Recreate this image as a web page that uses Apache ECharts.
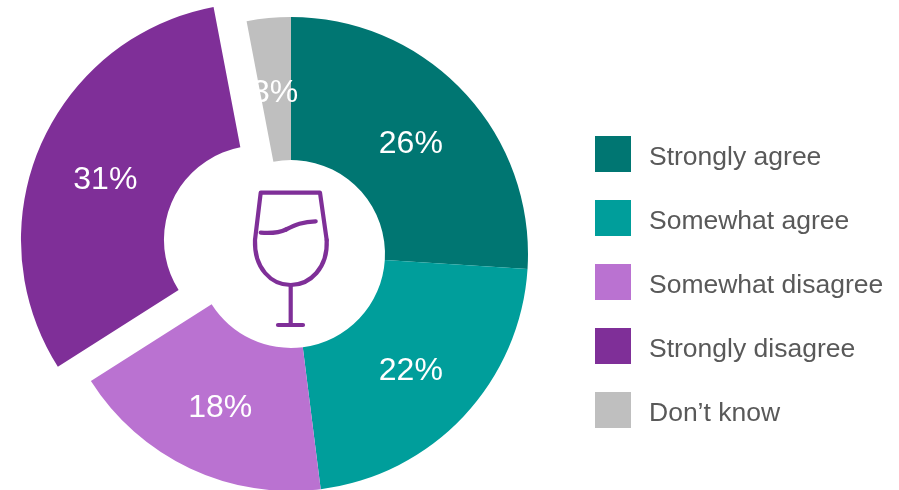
<!DOCTYPE html>
<html>
<head>
<meta charset="utf-8">
<script src="https://cdn.jsdelivr.net/npm/echarts@6/dist/echarts.min.js"></script>
<style>html,body{margin:0;padding:0;background:#fff}#c{width:899px;height:490px}</style>
</head>
<body>
<div id="c"></div>
<script>
const categories = ['Strongly agree', 'Somewhat agree', 'Somewhat disagree', 'Strongly disagree', 'Don\u2019t know'];
const values = [26, 22, 18, 31, 3];
const colors = ['#007672', '#009E9B', '#BA72D1', '#7F2F98', '#BFBFBF'];
const separated = [false, false, false, true, false];
const labelNudge = [[-3, 6], [-3, 2], [1, 2], [2, 7], [0, 7]];
const fontFamily = '"Liberation Sans", Arial, sans-serif';
const iconStyle = { fill: 'none', stroke: '#7F2F98', lineWidth: 4.2, lineJoin: 'round', lineCap: 'round' };
const icon = (type, shape) => ({ type, shape, silent: true, style: iconStyle });

const chart = echarts.init(document.getElementById('c'), null, { renderer: 'canvas' });
chart.setOption({
  animation: false,
  backgroundColor: '#ffffff',
  color: colors,
  legend: {
    orient: 'vertical',
    left: 595,
    top: 136,
    padding: 0,
    itemWidth: 36,
    itemHeight: 36,
    itemGap: 28,
    icon: 'rect',
    selectedMode: false,
    data: categories,
    formatter: '{t|{name}}',
    textStyle: {
      color: '#595959', fontSize: 26.5, fontFamily,
      rich: { t: { color: '#595959', fontSize: 26.5, fontFamily, padding: [7, 0, 0, 13] } }
    }
  },
  series: [{
    type: 'pie',
    center: [291, 254],
    radius: [94, 237],
    startAngle: 90,
    clockwise: true,
    silent: true,
    avoidLabelOverlap: false,
    selectedMode: 'multiple',
    selectedOffset: 36,
    data: categories.map((name, i) => ({
      name,
      value: values[i],
      selected: separated[i],
      label: { offset: labelNudge[i] },
      select: { label: { offset: labelNudge[i] } }
    })),
    label: { show: true, position: 'inside', formatter: '{c}%', color: '#ffffff', fontSize: 32, fontFamily },
    labelLine: { show: false }
  }],
  graphic: [
    icon('polyline', { points: [[255, 240], [260.7, 192.7], [320, 192.7], [326.7, 240]] }),
    icon('bezierCurve', { x1: 255, y1: 240, cpx1: 254, cpy1: 268, cpx2: 271, cpy2: 285, x2: 290.7, y2: 285 }),
    icon('bezierCurve', { x1: 326.7, y1: 240, cpx1: 328, cpy1: 268, cpx2: 310, cpy2: 285, x2: 290.7, y2: 285 }),
    icon('line', { x1: 290.7, y1: 285, x2: 290.7, y2: 325 }),
    icon('line', { x1: 278, y1: 325, x2: 303, y2: 325 }),
    icon('bezierCurve', { x1: 260.7, y1: 232.7, cpx1: 272, cpy1: 233.5, cpx2: 279, cpy2: 233, x2: 286, y2: 229.5 }),
    icon('bezierCurve', { x1: 286, y1: 229.5, cpx1: 295, cpy1: 225, cpx2: 303, cpy2: 221.5, x2: 315.7, y2: 221.3 })
  ]
});
</script>
</body>
</html>
